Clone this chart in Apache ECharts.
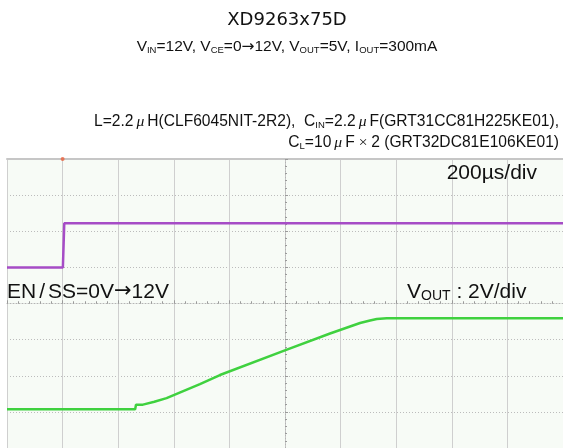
<!DOCTYPE html>
<html>
<head>
<meta charset="utf-8">
<script src="https://cdn.jsdelivr.net/npm/echarts@6/dist/echarts.min.js"></script>
<style>
  html, body { margin: 0; padding: 0; background: #ffffff; }
  #chart { width: 563px; height: 448px; }
</style>
</head>
<body>
<div id="chart"></div>
<script>
// scope screen: x in µs from centre (200µs/div), y in divisions
const xMin = -1000, xMax = 1000, xStep = 200;
const yMin = -4, yMax = 4, yStep = 1;

// EN/SS trace
const enTime = [-1000, -799, -794, 1000];
const enLevel = [1.0, 1.0, 2.22, 2.22];

// VOUT trace
const voutTime = [-1000, -539, -536, -511, -470, -426, -306, -234, 2, 162, 270, 306, 330, 366, 1000];
const voutLevel = [-2.93, -2.93, -2.8, -2.8, -2.72, -2.62, -2.23, -1.98, -1.29, -0.83, -0.54, -0.47, -0.43, -0.41, -0.41];

// trigger marker on top edge
const trigTime = [-800];
const trigLevel = [4];

const zip = (xs, ys) => xs.map((x, i) => [x, ys[i]]);

const chart = echarts.init(document.getElementById("chart"));

const centreAxis = (inside, min, max, step) => ({
  type: "value",
  min: min,
  max: max,
  interval: step,
  axisLine: { show: inside, onZero: true, onZeroAxisIndex: 0, lineStyle: { color: "#b4b4b4", type: [1, 2], width: 1 } },
  axisTick: { show: true, inside: inside, length: 3, lineStyle: { color: "#9a9a9a" } },
  minorTick: { show: true, splitNumber: 5, length: 2, lineStyle: { color: "#9a9a9a" } },
  axisLabel: { show: false },
  splitLine: { show: false },
});

// small text pieces used inside rich labels
const sub = (size, lh) => ({ fontSize: size, fontFamily: "Liberation Sans", fill: "#111", lineHeight: lh, verticalAlign: "bottom" });
const arrow = (size) => ({ fontSize: size, fontFamily: "DejaVu Sans", fill: "#111" });
const mu = (size) => ({ fontSize: size, fontFamily: "Liberation Serif", fontStyle: "italic", fill: "#111", padding: [0, 3, 0, 3] });

const option = {
  animation: false,
  backgroundColor: "#ffffff",
  grid: {
    left: 7,
    top: 159,
    width: 556,
    height: 300,
    show: true,
    borderWidth: 0,
    backgroundColor: "#f7fbf6",
  },
  xAxis: [
    Object.assign(centreAxis(true, xMin, xMax, xStep), {
      splitLine: { show: true, lineStyle: { color: "#cfcfcf", width: 1 } },
    }),
    centreAxis(false, xMin, xMax, xStep),
    {
      type: "value",
      position: "top",
      min: xMin,
      max: xMax,
      interval: xStep,
      axisLine: { show: true, onZero: false, lineStyle: { color: "#c6c6c6", width: 2 } },
      axisTick: { show: false },
      axisLabel: { show: false },
      splitLine: { show: false },
    },
  ],
  yAxis: [
    Object.assign(centreAxis(true, yMin, yMax, yStep), {
      splitLine: { show: true, lineStyle: { color: "#bcbcbc", type: [1, 2], width: 1 } },
    }),
    centreAxis(false, yMin, yMax, yStep),
  ],
  series: [
    {
      name: "EN/SS",
      type: "line",
      data: zip(enTime, enLevel),
      showSymbol: false,
      lineStyle: { color: "#a64cc6", width: 2.5 },
      z: 3,
    },
    {
      name: "VOUT",
      type: "line",
      data: zip(voutTime, voutLevel),
      showSymbol: false,
      lineStyle: { color: "#3fd13f", width: 2.5 },
      z: 3,
    },
    {
      name: "trigger",
      type: "scatter",
      data: zip(trigTime, trigLevel),
      symbolSize: 4,
      itemStyle: { color: "#e8603c" },
      clip: false,
      z: 4,
    },
  ],
  graphic: [
    {
      type: "text",
      x: 287,
      y: 20,
      style: {
        text: "XD9263x75D",
        fontSize: 18,
        fontFamily: "DejaVu Sans",
        fill: "#111",
        align: "center",
        verticalAlign: "middle",
      },
    },
    {
      type: "text",
      x: 287,
      y: 47,
      style: {
        text: "V{s|IN}=12V, V{s|CE}=0{a|→}12V, V{s|OUT}=5V, I{s|OUT}=300mA",
        fontSize: 15.5,
        fontFamily: "Liberation Sans",
        fill: "#111",
        align: "center",
        verticalAlign: "middle",
        lineHeight: 16,
        rich: { s: sub(9.5, 9), a: arrow(15.5) },
      },
    },
    {
      type: "text",
      x: 559,
      y: 122,
      style: {
        text: "L=2.2{m|μ}H(CLF6045NIT-2R2),  C{s|IN}=2.2{m|μ}F(GRT31CC81H225KE01),",
        fontSize: 15.6,
        fontFamily: "Liberation Sans",
        fill: "#111",
        align: "right",
        verticalAlign: "middle",
        lineHeight: 16,
        rich: { s: sub(9.5, 9), m: mu(15.6) },
      },
    },
    {
      type: "text",
      x: 559,
      y: 143,
      style: {
        text: "C{s|L}=10{m|μ}F{m|×}2 (GRT32DC81E106KE01)",
        fontSize: 15.6,
        fontFamily: "Liberation Sans",
        fill: "#111",
        align: "right",
        verticalAlign: "middle",
        lineHeight: 16,
        rich: { s: sub(9.5, 9), m: mu(15.6) },
      },
    },
    {
      type: "text",
      x: 537,
      y: 173,
      z: 10,
      style: {
        text: "200µs/div",
        fontSize: 21,
        fontFamily: "Liberation Sans",
        fill: "#111",
        align: "right",
        verticalAlign: "middle",
      },
    },
    {
      type: "text",
      x: 7,
      y: 292,
      z: 10,
      style: {
        text: "EN{sl|/}SS=0V{a|→}12V",
        fontSize: 21,
        fontFamily: "Liberation Sans",
        fill: "#111",
        align: "left",
        verticalAlign: "middle",
        rich: {
          sl: { fontSize: 21, fontFamily: "Liberation Sans", fill: "#111", padding: [0, 3, 0, 3] },
          a: arrow(21),
        },
      },
    },
    {
      type: "text",
      x: 407,
      y: 292,
      z: 10,
      style: {
        text: "V{s|OUT} : 2V/div",
        fontSize: 21,
        fontFamily: "Liberation Sans",
        fill: "#111",
        align: "left",
        verticalAlign: "middle",
        lineHeight: 22,
        rich: { s: sub(14, 8) },
      },
    },
  ],
};

chart.setOption(option);
window.addEventListener("resize", () => chart.resize());
</script>
</body>
</html>
